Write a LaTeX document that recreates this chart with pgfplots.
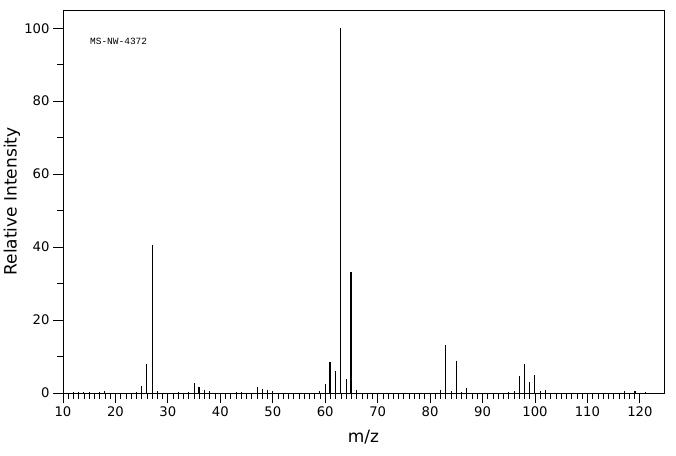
\documentclass[border=0pt]{standalone}
\usepackage{fontspec}
\setmainfont{DejaVu Sans}
\setmonofont{Liberation Mono}
\usepackage{pgfplots}
\pgfplotsset{compat=1.18}
\begin{document}
\begin{tikzpicture}
\begin{axis}[
  scale only axis, width=601pt, height=383pt,
  xmin=10, xmax=124.6, ymin=0, ymax=105,
  xtick={10,20,...,120},
  minor xtick={10,11,...,120},
  ytick={0,20,...,100},
  minor ytick={10,30,...,90},
  tick align=outside, tick pos=left,
  major tick length=10pt, minor tick length=6pt,
  every tick/.style={black, line width=0.8pt},
  axis line style={line width=0.8pt},
  ticklabel style={font=\fontsize{13.2}{15}\selectfont},
  /pgf/number format/assume math mode=true,
  xlabel={m/z}, ylabel={Relative Intensity},
  label style={font=\fontsize{17}{20}\selectfont},
  xlabel style={at={(axis description cs:0.5,0)}, anchor=center, yshift=-44pt},
  ylabel style={at={(axis description cs:-0.085,0.5)}, anchor=center},
  clip=false,
]
\addplot[ycomb, black, line width=1pt, mark=none] coordinates {
(12,0.4) (13,0.4) (14,0.4) (15,0.4) (17,0.4) (18,0.6) (24,0.4) (25,1.9)
(26,7.9) (27,40.6) (28,0.5) (32,0.4) (34,0.4) (35,2.7) (37,0.8) (38,0.5)
(43,0.4) (44,0.4) (47,1.6) (48,1.1) (49,0.8) (50,0.5) (59,0.5) (60,2.5)
(62,6.0) (63,100) (64,3.8) (66,0.8) (82,0.8) (83,13.2) (84,0.5) (85,8.8)
(86,0.4) (87,1.4) (95,0.4) (96,0.5) (97,4.7) (98,7.9) (99,3.0) (100,5.0)
(101,0.5) (102,0.8) (117,0.5) (121,0.3)
};
\addplot[ycomb, black, line width=2pt, mark=none] coordinates {
(36,1.6) (61,8.5) (65,33.2) (119,0.5)
};
\node[anchor=west, font=\ttfamily\fontsize{9.5}{11}\selectfont] at (axis cs:14.5,96.4) {MS-NW-4372};
\end{axis}
\path ([shift={(-63pt,-62pt)}]current axis.south west) rectangle ([shift={(12pt,10pt)}]current axis.north east);
\end{tikzpicture}
\end{document}
